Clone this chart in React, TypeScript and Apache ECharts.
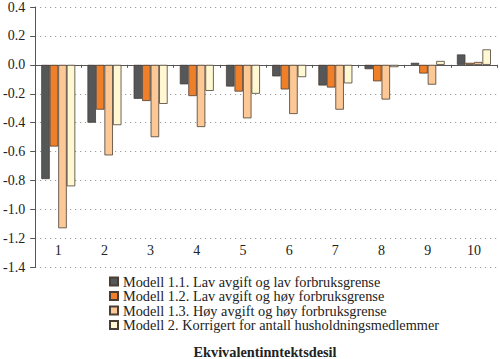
import React, { useEffect, useRef } from "react";
import * as echarts from "echarts";

const categories = ["1", "2", "3", "4", "5", "6", "7", "8", "9", "10"];
const seriesNames = [
  "Modell 1.1. Lav avgift og lav forbruksgrense",
  "Modell 1.2. Lav avgift og høy forbruksgrense",
  "Modell 1.3. Høy avgift og høy forbruksgrense",
  "Modell 2. Korrigert for antall husholdningsmedlemmer",
];
const modell11 = [-0.79, -0.4, -0.235, -0.135, -0.15, -0.08, -0.143, -0.03, 0.014, 0.072];
const modell12 = [-0.565, -0.31, -0.25, -0.216, -0.185, -0.17, -0.157, -0.114, -0.06, 0.014];
const modell13 = [-1.13, -0.626, -0.5, -0.43, -0.37, -0.34, -0.31, -0.24, -0.137, 0.02];
const modell2 = [-0.84, -0.417, -0.27, -0.18, -0.2, -0.085, -0.128, -0.016, 0.027, 0.107];
const colors = ["#555759", "#f07f2a", "#fcc896", "#fff8d2"];
const xTitle = "Ekvivalentinntektsdesil";

const FONT = "'Liberation Serif', 'Times New Roman', serif";

export default function App() {
  const ref = useRef<HTMLDivElement>(null);
  useEffect(() => {
    if (!ref.current) return;
    const chart = echarts.init(ref.current, null, { renderer: "svg" });
    const values = [modell11, modell12, modell13, modell2];
    chart.setOption({
      animation: false,
      backgroundColor: "#ffffff",
      textStyle: { fontFamily: FONT },
      grid: { left: 35, right: 3, top: 5.3, bottom: 91.7, containLabel: false },
      legend: {
        orient: "vertical",
        left: 109,
        top: 274.5,
        padding: 0,
        itemWidth: 8,
        itemHeight: 8,
        itemGap: 0.5,
        icon: "rect",
        textStyle: { fontFamily: FONT, fontSize: 14.3, color: "#222", lineHeight: 14 },
        data: seriesNames,
      },
      graphic: [
        {
          type: "text",
          x: 265,
          y: 359,
          style: {
            text: xTitle,
            fontFamily: FONT,
            fontSize: 14.3,
            fontWeight: "bold",
            fill: "#222",
            textAlign: "center",
            textVerticalAlign: "bottom",
          },
        },
      ],
      xAxis: [
        {
          type: "category",
          data: categories,
          position: "bottom",
          axisLine: { onZero: true, lineStyle: { color: "#555", width: 1 } },
          axisTick: { show: true, length: 3, lineStyle: { color: "#555" } },
          axisLabel: { show: false },
          splitLine: { show: false },
        },
        {
          type: "category",
          data: categories,
          position: "bottom",
          axisLine: { show: false, onZero: false },
          axisTick: { show: false },
          axisLabel: { inside: true, margin: 10, fontFamily: FONT, fontSize: 14, color: "#222" },
          splitLine: { show: false },
        },
      ],
      yAxis: {
        type: "value",
        min: -1.4,
        max: 0.4,
        interval: 0.2,
        axisLine: { show: true, lineStyle: { color: "#555" } },
        axisTick: { show: true, length: 5, lineStyle: { color: "#555" } },
        axisLabel: {
          margin: 10,
          fontFamily: FONT,
          fontSize: 14,
          color: "#222",
          formatter: (v: number) => v.toFixed(1),
        },
        splitLine: { show: true, lineStyle: { color: "#888", type: [1, 4], width: 1 } },
      },
      series: seriesNames.map((name, i) => ({
        name,
        type: "bar",
        xAxisIndex: 0,
        data: values[i],
        barWidth: 8.5,
        barGap: "0%",
        itemStyle: { color: colors[i], borderColor: "#4a3f35", borderWidth: 0.8 },
      })),
    });
    return () => chart.dispose();
  }, []);
  return <div ref={ref} style={{ width: 500, height: 359, position: "absolute", left: 0, top: 0 }} />;
}
